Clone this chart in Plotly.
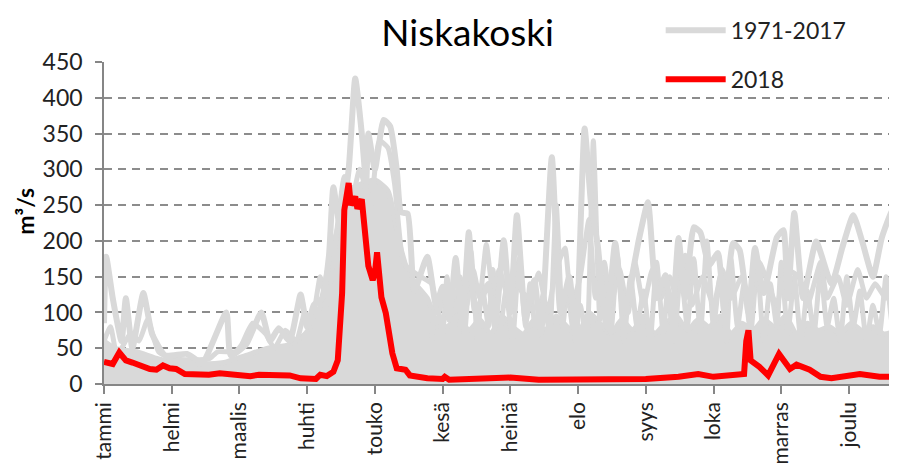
import plotly.graph_objects as go

# ---- data (day index within the year, value m3/s) ----
month_labels = ["tammi", "helmi", "maalis", "huhti", "touko", "kesä",
                "heinä", "elo", "syys", "loka", "marras", "joulu"]
month_tick_days = [0, 31, 62, 93, 124, 155, 186, 217, 248, 279, 310, 341]

red_days = [0, 2, 4, 7, 10, 13, 16, 21, 24, 27, 30, 33, 37, 44, 48, 53, 58, 62, 67, 71,
            80, 85, 90, 97, 99, 102, 105, 107, 109, 110, 112, 113, 115, 116, 118, 119,
            121, 123, 124, 125, 126, 127, 129, 132, 134, 138, 140, 148, 155, 156, 158,
            172, 186, 199, 217, 227, 234, 248, 263, 272, 279, 286, 293, 294, 295, 296,
            300, 304, 309, 314, 317, 323, 328, 333, 346, 355, 363]
red_values = [31, 29, 28, 44, 33, 30, 26, 21, 20, 26, 22, 21, 14, 13, 13, 15, 13, 11, 11, 13,
              13, 12, 8, 7, 13, 11, 17, 33, 127, 243, 281, 250, 262, 245, 258, 230,
              165, 145, 155, 184, 150, 121, 99, 43, 22, 20, 12, 8, 7, 10, 6,
              7, 9, 6, 6, 5, 7, 7, 10, 14, 10, 11, 14, 60, 75, 33,
              24, 12, 42, 21, 27, 20, 10, 8, 14, 10, 10]

# dense core of the 1971-2017 bundle (read as the solid grey mass)
core_days = [0, 5, 15, 25, 35, 45, 55, 65, 75, 85, 92, 98, 103, 108, 112, 118, 124, 130,
             135, 140, 148, 152, 157, 162, 167, 172, 177, 182, 187, 192, 197, 202, 207,
             212, 217, 222, 227, 232, 237, 242, 247, 252, 257, 262, 267, 272, 277, 282,
             287, 292, 297, 302, 307, 312, 317, 322, 327, 332, 337, 342, 347, 352, 357, 363]
core_values = [60, 50, 45, 35, 30, 28, 30, 40, 50, 55, 70, 100, 170, 230, 270, 280, 285, 270,
               200, 150, 120, 90, 80, 95, 75, 90, 70, 95, 80, 70, 90, 75, 95,
               80, 70, 100, 85, 70, 90, 75, 95, 70, 85, 95, 75, 90, 80, 95,
               70, 85, 75, 90, 80, 95, 70, 85, 75, 80, 70, 85, 75, 80, 70, 75]

# highest visible peaks of the 1971-2017 bundle
peakA_days = [0, 1, 4, 8, 10, 13, 18, 22, 28, 38, 45, 56, 58, 65, 72, 76, 80, 85, 90, 93,
              96, 100, 103, 105, 108, 112, 115, 118, 120, 121, 124, 128, 131, 134, 136, 139,
              142, 148, 152, 155, 158, 161, 164, 167, 170, 176, 179, 183, 186, 189, 193,
              197, 200, 205, 209, 213, 216, 220, 223, 226, 230, 234, 238, 245, 249, 253,
              257, 260, 263, 266, 270, 273, 277, 281, 284, 288, 291, 295, 298, 302, 308,
              311, 313, 316, 320, 326, 333, 338, 343, 347, 352, 356, 361, 363]
peakA_values = [85, 178, 120, 60, 120, 50, 127, 70, 40, 42, 30, 100, 40, 55, 100, 60, 78, 60, 125, 80,
                110, 120, 180, 275, 220, 300, 427, 350, 280, 350, 300, 369, 360, 300, 240, 238,
                130, 178, 110, 136, 90, 176, 80, 212, 100, 140, 80, 201, 100, 236, 90,
                145, 70, 317, 100, 150, 60, 357, 250, 194, 80, 197, 100, 204, 254, 120,
                152, 90, 204, 120, 219, 212, 166, 183, 100, 197, 187, 100, 190, 127, 205,
                215, 120, 239, 120, 199, 140, 191, 236, 200, 150, 204, 243, 200]

# mid-level peaks of the 1971-2017 bundle
peakB_days = [0, 3, 6, 12, 16, 20, 25, 32, 48, 52, 60, 63, 68, 74, 78, 83, 88, 92, 95, 99,
              102, 106, 110, 113, 117, 122, 126, 130, 133, 137, 140, 145, 150, 153, 157, 160,
              163, 166, 169, 172, 175, 178, 181, 185, 188, 191, 195, 199, 203, 207, 211,
              214, 218, 222, 225, 229, 232, 236, 240, 243, 247, 251, 255, 259, 262, 266,
              269, 274, 279, 283, 287, 292, 296, 300, 304, 308, 312, 318, 322, 328, 331,
              336, 340, 345, 349, 353, 358, 362]
peakB_values = [60, 80, 40, 70, 60, 90, 45, 35, 35, 45, 45, 55, 85, 70, 50, 75, 60, 100, 85, 150,
                110, 200, 290, 250, 300, 250, 340, 330, 280, 170, 160, 150, 140, 100, 130, 100,
                150, 110, 160, 120, 195, 130, 160, 120, 170, 130, 120, 155, 100, 160, 190,
                110, 150, 230, 120, 170, 110, 160, 100, 170, 110, 160, 120, 150, 120, 180,
                110, 150, 110, 160, 120, 150, 110, 170, 140, 110, 160, 150, 110, 170, 120,
                150, 110, 160, 120, 140, 120, 160]

# further peaks of the 1971-2017 bundle (summer-autumn)
peakC_days = [150, 152, 155, 157, 160, 162, 165, 168, 171, 173, 176, 178, 181, 184, 187,
              190, 193, 195, 198, 201, 204, 207, 210, 212, 215, 218, 221, 224, 227, 229,
              232, 235, 238, 241, 244, 247, 250, 253, 256, 258, 261, 264, 267, 270, 273,
              276, 279, 282, 285, 287, 290, 293, 296, 299, 302, 305, 308, 310, 313, 316,
              319, 322, 325, 328, 331, 334, 337, 340, 343, 346, 349, 352, 355, 358, 361, 363]
peakC_values = [60, 120, 70, 150, 60, 130, 70, 185, 60, 140, 80, 160, 70, 130, 60,
                175, 80, 140, 60, 125, 70, 250, 80, 135, 70, 110, 60, 340, 90, 150,
                70, 180, 60, 150, 80, 130, 60, 170, 70, 130, 60, 160, 80, 175, 70,
                200, 80, 150, 60, 175, 80, 140, 70, 165, 60, 140, 80, 170, 70, 150,
                60, 130, 70, 160, 80, 120, 60, 150, 80, 130, 60, 110, 70, 150, 80, 110]

GREY = "#d9d9d9"
RED = "#ff0000"
FONT = "Lato"

fig = go.Figure()
fig.add_trace(go.Scatter(x=core_days, y=core_values, mode="lines", fill="tozeroy",
                         fillcolor=GREY, line=dict(color=GREY, width=5, shape="spline", smoothing=0.6),
                         showlegend=False, hoverinfo="skip", legendgroup="g"))
fig.add_trace(go.Scatter(x=peakC_days, y=peakC_values, mode="lines",
                         line=dict(color=GREY, width=5, shape="spline", smoothing=0.5),
                         showlegend=False, hoverinfo="skip", legendgroup="g"))
fig.add_trace(go.Scatter(x=peakB_days, y=peakB_values, mode="lines",
                         line=dict(color=GREY, width=5, shape="spline", smoothing=0.5),
                         showlegend=False, hoverinfo="skip", legendgroup="g"))
fig.add_trace(go.Scatter(x=peakA_days, y=peakA_values, mode="lines", name="1971-2017",
                         line=dict(color=GREY, width=6, shape="spline", smoothing=0.5),
                         legendgroup="g"))
fig.add_trace(go.Scatter(x=red_days, y=red_values, mode="lines", name="2018",
                         line=dict(color=RED, width=6), legendgroup="r"))

# the page adds an 8px body margin, so the figure is drawn 8px smaller and offset
fig.update_layout(
    width=889, height=455,
    margin=dict(l=96, r=0, t=54, b=79, autoexpand=False),
    paper_bgcolor="white", plot_bgcolor="white",
    font=dict(family=FONT, color="#333333"),
    title=dict(text="Niskakoski", x=0.517, xanchor="center", y=0.945, yanchor="middle",
               font=dict(family=FONT, size=37, color="black")),
    legend=dict(x=0.702, xanchor="left", y=1.165, yanchor="top",
                font=dict(family=FONT, size=23, color="#222222"),
                itemwidth=60,
                tracegroupgap=16, bgcolor="rgba(0,0,0,0)"),
    xaxis=dict(range=[0, 363], tickmode="array", tickvals=month_tick_days,
               ticktext=month_labels, tickangle=-90, ticks="outside", ticklen=8,
               tickcolor="#868686", tickwidth=1.5, showgrid=False, showline=True,
               linecolor="#868686", linewidth=1.5, zeroline=False, automargin=False,
               tickfont=dict(family=FONT, size=21, color="#222222")),
    yaxis=dict(range=[0, 450], dtick=50, ticks="outside", ticklen=7, tickcolor="#868686",
               tickwidth=1.5, showline=True, linecolor="#868686", linewidth=1.5,
               showgrid=True, gridcolor="#8c8c8c", gridwidth=1.5, griddash="8px,6px",
               zeroline=False, ticklabelstandoff=8, automargin=False,
               tickfont=dict(family=FONT, size=23, color="#222222")),
    annotations=[dict(text="<b>m³/s</b>", xref="paper", yref="paper",
                      x=-0.1, y=0.537, xanchor="center", yanchor="middle",
                      textangle=-90, showarrow=False,
                      font=dict(family=FONT, size=23, color="black"))],
)

fig.write_html("out.html")
